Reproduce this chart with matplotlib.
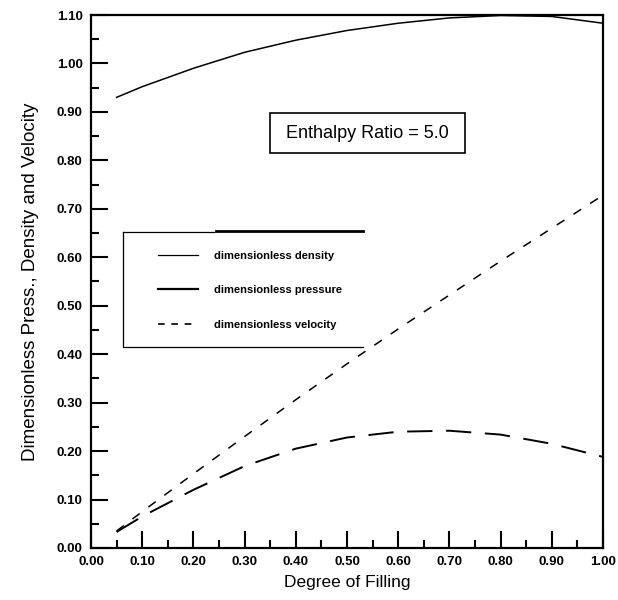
import matplotlib
matplotlib.use("Agg")
import matplotlib.pyplot as plt
from matplotlib.lines import Line2D
from matplotlib.patches import Rectangle
from matplotlib.ticker import MultipleLocator, FormatStrFormatter

plt.rcParams['font.family'] = ['Liberation Sans', 'DejaVu Sans']

# Values
filling = [0.05, 0.1, 0.2, 0.3, 0.4, 0.5, 0.6, 0.7, 0.8, 0.9, 1.0]
density = [0.93, 0.952, 0.99, 1.023, 1.048, 1.068, 1.083, 1.094, 1.099, 1.097, 1.083]
pressure = [0.033, 0.065, 0.12, 0.169, 0.205, 0.228, 0.240, 0.242, 0.234, 0.215, 0.188]
velocity = [0.035, 0.075, 0.153, 0.23, 0.306, 0.38, 0.452, 0.522, 0.592, 0.66, 0.728]

labels = ["dimensionless density", "dimensionless pressure", "dimensionless velocity"]
annotation = "Enthalpy Ratio = 5.0"

fig = plt.figure(figsize=(6.18, 6.0), dpi=100)
ax = fig.add_axes([0.1472, 0.0867, 0.8285, 0.8883])

ax.plot(filling, density, color='black', lw=1.1)
ax.plot(filling, pressure, color='black', lw=1.4, dashes=(13, 7))
ax.plot(filling, velocity, color='black', lw=1.1, dashes=(6, 7))

ax.set_xlim(0, 1.0)
ax.set_ylim(0, 1.10)
ax.xaxis.set_major_locator(MultipleLocator(0.1))
ax.xaxis.set_minor_locator(MultipleLocator(0.05))
ax.yaxis.set_major_locator(MultipleLocator(0.1))
ax.yaxis.set_minor_locator(MultipleLocator(0.05))
ax.xaxis.set_major_formatter(FormatStrFormatter('%.2f'))
ax.yaxis.set_major_formatter(FormatStrFormatter('%.2f'))
ax.tick_params(which='major', direction='in', length=12, width=1.5, labelsize=9.5, pad=6)
ax.tick_params(which='minor', direction='in', length=6, width=1.5)
for lab in ax.get_xticklabels() + ax.get_yticklabels():
    lab.set_fontweight('bold')
for s in ax.spines.values():
    s.set_linewidth(1.6)

ax.set_xlabel("Degree of Filling", fontsize=12.5, labelpad=5)
ax.set_ylabel("Dimensionless Press., Density and Velocity", fontsize=13.5, labelpad=13)

# annotation box
ax.add_patch(Rectangle((0.35, 0.741), 0.38, 0.075, transform=ax.transAxes,
                       fill=False, lw=1.2, edgecolor='black'))
ax.text(0.54, 0.778, annotation, transform=ax.transAxes, fontsize=13,
        ha='center', va='center')

# legend with open-sided frame
handles = [Line2D([], [], color='black', lw=0.9),
           Line2D([], [], color='black', lw=1.6),
           Line2D([], [], color='black', lw=1.2, dashes=(4, 4))]
ax.legend(handles, labels, loc='upper left', bbox_to_anchor=(0.115, 0.572),
          frameon=False, handlelength=3.6, labelspacing=2.2,
          handletextpad=1.5, borderpad=0.2,
          prop={'size': 8, 'weight': 'bold'})
ax.plot([0.0625, 0.0625, 0.531], [0.593, 0.377, 0.377], transform=ax.transAxes,
        color='black', lw=0.9)
ax.plot([0.0625, 0.24], [0.593, 0.593], transform=ax.transAxes, color='black', lw=0.9)
ax.plot([0.245, 0.531], [0.595, 0.595], transform=ax.transAxes, color='black', lw=2.0)

fig.savefig("out.png", dpi=100)
